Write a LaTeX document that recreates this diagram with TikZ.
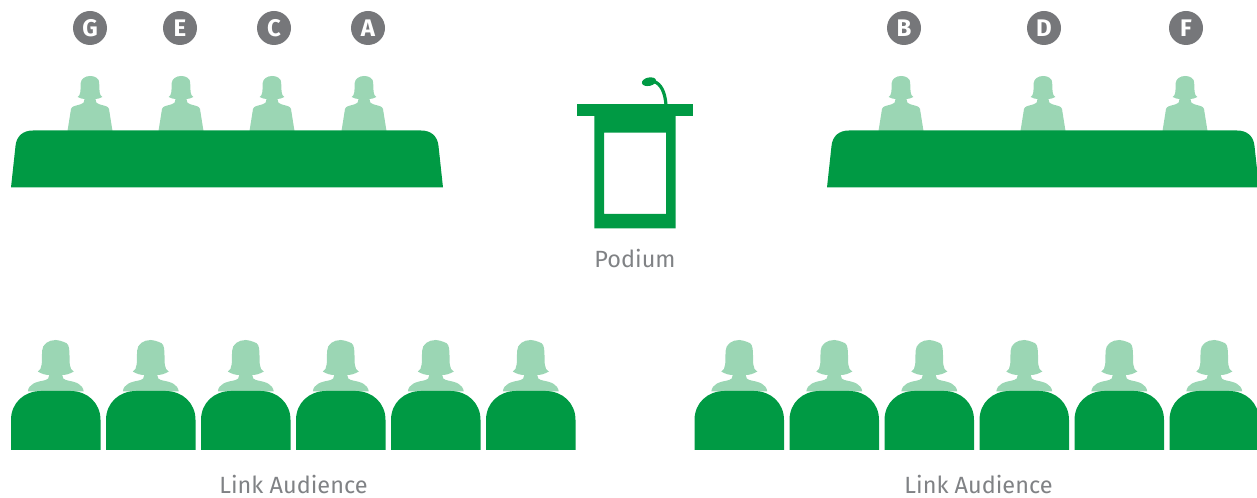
\documentclass[tikz,border=0pt]{standalone}
\usepackage{fontspec}
\setmainfont{Fira Sans}
\usetikzlibrary{positioning}
\definecolor{tablegreen}{HTML}{009A44}
\definecolor{persongreen}{HTML}{9BD6B4}
\definecolor{badgegray}{HTML}{76777A}
\definecolor{labelgray}{HTML}{808285}
\newcommand{\panelist}[1]{%
  \fill[persongreen, shift={(#1,76)}] (0,0) .. controls (3,0) and (4,0.5) .. (6,1.5)
    .. controls (9,2.5) and (9,5) .. (9.3,9) .. controls (9.5,14) and (9,19) .. (12.3,21)
    .. controls (10,22.5) and (7,23) .. (5.5,23) .. controls (5.5,26) and (6,27) .. (10,28.5)
    .. controls (15,30) and (18,30) .. (19,33) -- (22.5,55) -- (-22.5,55) -- (-19,33)
    .. controls (-18,30) and (-15,30) .. (-10,28.5) .. controls (-6,27) and (-5.5,26) .. (-5.5,23)
    .. controls (-7,23) and (-10,22.5) .. (-12.3,21) .. controls (-9,19) and (-9.5,14) .. (-9.3,7)
    .. controls (-9,3) and (-5,0) .. (0,0) -- cycle;}
\newcommand{\listener}[1]{%
  \fill[persongreen, shift={(#1,340)}] (0,0) .. controls (3,0) and (5,1) .. (8,2)
    .. controls (12.5,3) and (13.5,6) .. (13.7,13) .. controls (14,22) and (13,29) .. (18,31.5)
    .. controls (14,34) and (10,35) .. (6.5,35) .. controls (6,38) and (8,39.5) .. (12,40.5)
    .. controls (20,42) and (27,44) .. (28,51.5) -- (-28,51.5)
    .. controls (-27,44) and (-20,42) .. (-12,40.5) .. controls (-8,39.5) and (-6,38) .. (-6.5,35)
    .. controls (-10,35) and (-14,34) .. (-18,31.5) .. controls (-13,29) and (-14,22) .. (-13.7,11)
    .. controls (-13.5,4) and (-7,0) .. (0,0) -- cycle;}
\newcommand{\seat}[1]{%
  \fill[tablegreen, shift={(#1,391)}] (0,59) -- (0,29) .. controls (0,12) and (13,0) .. (30,0)
    -- (59.5,0) .. controls (76.5,0) and (89.5,12) .. (89.5,29) -- (89.5,59) -- cycle;}
\newcommand{\panel}[2]{%
  \fill[tablegreen] (#1,187.5) -- (#1+4.5,146) .. controls (#1+5.5,136) and (#1+12,130.5) .. (#1+22,130.5)
    -- (#2-22,130.5) .. controls (#2-12,130.5) and (#2-5.5,136) .. (#2-4.5,146) -- (#2,187.5) -- cycle;}
\tikzset{
  badge/.style={circle, fill=badgegray, text=white, minimum size=25.5pt, inner sep=0pt, font=\fontsize{18}{18}\selectfont\bfseries},
  caption/.style={text=labelgray, inner sep=0pt, font=\fontsize{17.6}{18}\selectfont}
}
\begin{document}
\begin{tikzpicture}[x=0.75pt, y=-0.75pt]
    \useasboundingbox (0,0) rectangle (1257,498);
    % panel seats
    \foreach \px in {90,181,272,364,901,1043,1185} {\panelist{\px}}
    \panel{11}{443}
    \panel{827}{1259}
    \node[badge] (g) at (90,28) {G};
    \node[badge] (e) at (180,28) {E};
    \node[badge] (c) at (274,28) {C};
    \node[badge] (a) at (368,28) {A};
    \node[badge] (b) at (904,28) {B};
    \node[badge] (d) at (1044,28) {D};
    \node[badge] (f) at (1186,28) {F};

    % podium
    \fill[tablegreen] (577.3,104.3) rectangle (692.7,115.7);
    \fill[tablegreen, even odd rule] (594.3,115) rectangle (675.7,228.3) (604,132.7) rectangle (666,214);
    \fill[tablegreen, rotate around={12:(649,81.7)}] (649,81.7) ellipse (7.2 and 4.2);
    \draw[tablegreen, line width=2.4pt] (654,81.5) .. controls (661,84) and (665,92) .. (666,105);
    \node[caption] (podium) at (635,258) {Podium};

    % audience
    \foreach \sx in {11,106,201,296,391,486,694.5,789.5,884.5,979.5,1074.5,1169.5} {
      \listener{\sx+44.75}
      \seat{\sx}
    }
    \node[caption] (left) at (293.5,484.5) {Link Audience};
    \node[caption] (right) at (978.5,484.5) {Link Audience};
\end{tikzpicture}
\end{document}
